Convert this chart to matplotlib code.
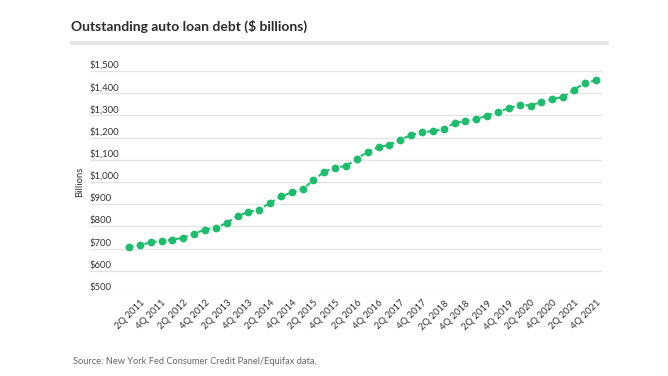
import matplotlib
matplotlib.use("Agg")
import matplotlib.pyplot as plt
import matplotlib.patches as patches
import matplotlib.transforms as mtransforms

plt.rcParams['font.family'] = ['Lato', 'DejaVu Sans']

# quarterly outstanding auto loan debt, $ billions, 1Q 2011 .. 4Q 2021
years = list(range(2011, 2022))
quarters = [f"{q}Q {y}" for y in years for q in range(1, 5)]
debt = [707, 714, 729, 735, 740, 749, 768, 785, 794, 815,
        848, 864, 876, 905, 935, 953, 968, 1008, 1046, 1065,
        1072, 1105, 1136, 1158, 1167, 1191, 1212, 1223, 1230, 1239,
        1266, 1275, 1283, 1299, 1316, 1332, 1349, 1344, 1361, 1373,
        1383, 1416, 1446, 1458]
y_ticks = list(range(500, 1501, 100))

GREEN = '#1dbd6d'
W, H = 668, 376

fig = plt.figure(figsize=(W / 100, H / 100), dpi=100)

# title + gray rule
fig.text(71 / W, 1 - 26 / H, "Outstanding auto loan debt ($ billions)",
         fontsize=10.0, fontweight='bold', color='#2b2b2b', va='center', ha='left')
fig.patches.append(patches.Rectangle((70 / W, 1 - 45 / H), 539 / W, 4 / H,
                                     transform=fig.transFigure, facecolor='#e6e6e6',
                                     edgecolor='none'))

ax = fig.add_axes([90 / W, 1 - 293 / H, 512 / W, 222 / H])
x = list(range(len(debt)))
ax.plot(x, debt, color=GREEN, linestyle=(0, (2.2, 1.6)), linewidth=1.5,
        marker='o', markersize=5.6, markeredgewidth=0, clip_on=False, zorder=3)

ax.set_xlim(-3.59, 43.58)
ax.set_ylim(500, 1500)

# gridlines
ax.set_yticks(y_ticks)
ax.set_yticklabels([f"${v:,}" for v in y_ticks])
ax.grid(axis='y', color='#e3e3e3', linewidth=0.9)
ax.set_axisbelow(True)
ax.tick_params(axis='y', length=0, pad=0, labelsize=6.8, labelcolor='#333333')
for lab in ax.get_yticklabels():
    lab.set_horizontalalignment('left')
    lab.set_verticalalignment('bottom')
    lab.set_transform(lab.get_transform() + mtransforms.ScaledTranslation(0, 1 / 100, fig.dpi_scale_trans))

# x labels: every other quarter starting at 2Q
ax.set_xticks(x[1::2])
ax.set_xticklabels(quarters[1::2], rotation=45, ha='right', va='top',
                   rotation_mode='anchor')
ax.tick_params(axis='x', length=0, pad=4, labelsize=6.8, labelcolor='#333333')

for s in ax.spines.values():
    s.set_visible(False)

ax.set_ylabel("Billions", fontsize=6.8, color='#333333', labelpad=2)
ax.yaxis.set_label_coords(-6 / 512, 0.5)

fig.text(73 / W, 1 - 361 / H, "Source: New York Fed Consumer Credit Panel/Equifax data.",
         fontsize=6.7, color='#666666', va='center', ha='left')

fig.savefig("out.png", dpi=100)
